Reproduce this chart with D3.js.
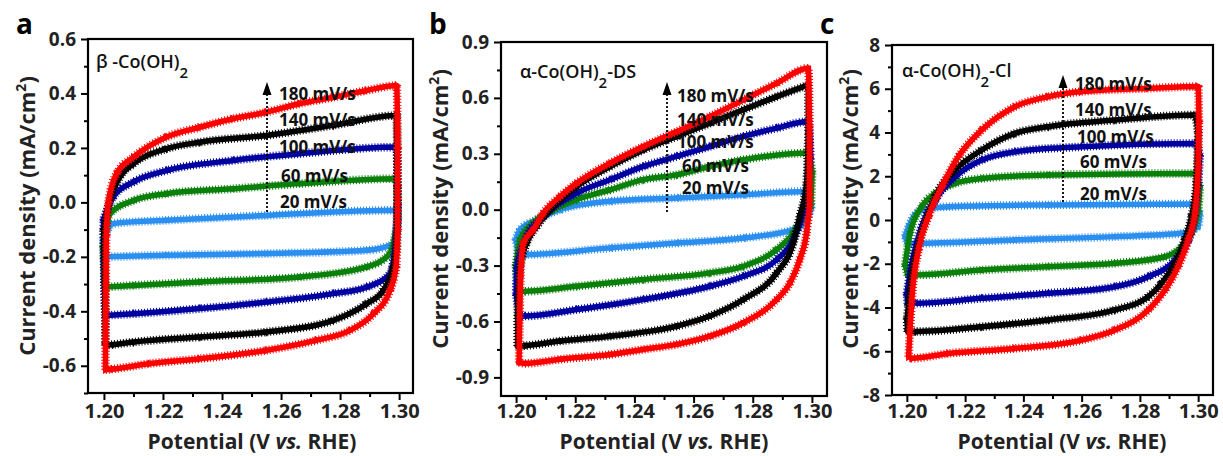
<!DOCTYPE html>
<html>
<head>
<meta charset="utf-8">
<script src="https://cdn.jsdelivr.net/npm/d3@7"></script>
<style>
  body { margin: 0; background: #fff; }
  svg text { font-family: "Open Sans", "DejaVu Sans", sans-serif; }
</style>
</head>
<body>
<div id="chart"></div>
<script>
// scan rates, top to bottom in the annotation
var rates = ["180 mV/s", "140 mV/s", "100 mV/s", "60 mV/s", "20 mV/s"];

var xTicks = [1.20, 1.22, 1.24, 1.26, 1.28, 1.30];
var xMinor = [1.21, 1.23, 1.25, 1.27, 1.29];
var yTicksA = [-0.6, -0.4, -0.2, 0.0, 0.2, 0.4, 0.6];
var yMinorA = [-0.7, -0.5, -0.3, -0.1, 0.1, 0.3, 0.5];
var yTicksB = [-0.9, -0.6, -0.3, 0.0, 0.3, 0.6, 0.9];
var yMinorB = [-0.75, -0.45, -0.15, 0.15, 0.45, 0.75];
var yTicksC = [-8, -6, -4, -2, 0, 2, 4, 6, 8];
var yMinorC = [-7, -5, -3, -1, 1, 3, 5, 7];

// panel a : beta-Co(OH)2, closed CV loops [potential, current density]
var aRed = [[1.2005,-0.615],[1.2006,-0.40],[1.2008,-0.12],[1.2015,0.0],[1.2043,0.106],[1.2100,0.166],[1.2212,0.240],[1.2325,0.276],[1.2437,0.307],[1.2550,0.331],[1.2664,0.363],[1.2777,0.386],[1.2890,0.411],[1.2992,0.429],[1.2995,0.20],[1.2995,-0.10],[1.2990,-0.237],[1.2969,-0.323],[1.2913,-0.409],[1.2834,-0.470],[1.2721,-0.506],[1.2552,-0.543],[1.2325,-0.574],[1.2156,-0.592],[1.2030,-0.612]];
var aBlack = [[1.2005,-0.525],[1.2003,-0.30],[1.1999,-0.103],[1.2020,0.007],[1.2054,0.093],[1.2100,0.142],[1.2212,0.197],[1.2325,0.221],[1.2550,0.246],[1.2777,0.283],[1.2992,0.319],[1.2994,0.05],[1.2990,-0.18],[1.2947,-0.323],[1.2890,-0.372],[1.2777,-0.433],[1.2550,-0.476],[1.2325,-0.494],[1.2100,-0.513],[1.2030,-0.522]];
var aBlue = [[1.2005,-0.415],[1.2000,-0.20],[1.1999,-0.06],[1.2031,0.02],[1.2100,0.075],[1.2212,0.117],[1.2438,0.154],[1.2664,0.179],[1.2992,0.203],[1.2995,0.0],[1.2992,-0.103],[1.2969,-0.262],[1.2890,-0.311],[1.2777,-0.335],[1.2550,-0.366],[1.2325,-0.390],[1.2100,-0.409]];
var aGreen = [[1.2005,-0.311],[1.1998,-0.164],[1.2020,-0.042],[1.2100,0.007],[1.2212,0.032],[1.2438,0.050],[1.2664,0.069],[1.2992,0.087],[1.2996,-0.066],[1.2969,-0.188],[1.2890,-0.237],[1.2664,-0.274],[1.2325,-0.292],[1.2100,-0.305]];
var aLight = [[1.2005,-0.200],[1.1998,-0.139],[1.2031,-0.078],[1.2212,-0.066],[1.2550,-0.048],[1.2992,-0.029],[1.2996,-0.080],[1.2981,-0.152],[1.2890,-0.176],[1.2550,-0.188],[1.2212,-0.194]];

// panel b : alpha-Co(OH)2-DS
var bRed = [[1.2010,-0.821],[1.2012,-0.60],[1.2015,-0.357],[1.2025,-0.179],[1.2058,-0.107],[1.2092,-0.018],[1.2149,0.071],[1.2205,0.143],[1.2318,0.250],[1.2430,0.339],[1.2543,0.419],[1.2655,0.500],[1.2768,0.589],[1.2881,0.679],[1.2988,0.759],[1.2992,0.45],[1.2992,0.018],[1.2982,-0.125],[1.2959,-0.268],[1.2926,-0.393],[1.2881,-0.482],[1.2768,-0.607],[1.2655,-0.679],[1.2543,-0.723],[1.2430,-0.750],[1.2318,-0.777],[1.2149,-0.803],[1.2030,-0.825]];
var bBlack = [[1.2005,-0.732],[1.2005,-0.57],[1.2014,-0.304],[1.2036,-0.179],[1.2070,-0.089],[1.2115,0.000],[1.2205,0.125],[1.2318,0.232],[1.2430,0.321],[1.2543,0.393],[1.2655,0.464],[1.2768,0.536],[1.2881,0.607],[1.2988,0.670],[1.2988,0.411],[1.2982,0.143],[1.2959,-0.036],[1.2937,-0.179],[1.2881,-0.339],[1.2768,-0.482],[1.2655,-0.571],[1.2543,-0.625],[1.2318,-0.679],[1.2149,-0.705],[1.2030,-0.730]];
var bBlue = [[1.2010,-0.571],[1.2000,-0.45],[1.2003,-0.304],[1.2036,-0.143],[1.2092,-0.036],[1.2205,0.089],[1.2318,0.161],[1.2430,0.232],[1.2543,0.286],[1.2655,0.339],[1.2768,0.393],[1.2881,0.438],[1.2988,0.473],[1.2995,0.286],[1.2988,0.125],[1.2970,-0.018],[1.2937,-0.161],[1.2881,-0.268],[1.2768,-0.357],[1.2655,-0.411],[1.2430,-0.482],[1.2205,-0.536],[1.2030,-0.571]];
var bGreen = [[1.2010,-0.438],[1.1999,-0.304],[1.2014,-0.161],[1.2058,-0.071],[1.2126,0.000],[1.2205,0.054],[1.2318,0.107],[1.2430,0.161],[1.2543,0.187],[1.2655,0.232],[1.2768,0.268],[1.2988,0.304],[1.3001,0.196],[1.2995,0.018],[1.2970,-0.036],[1.2937,-0.125],[1.2881,-0.214],[1.2768,-0.304],[1.2655,-0.339],[1.2430,-0.375],[1.2205,-0.411],[1.2030,-0.438]];
var bLight = [[1.2010,-0.241],[1.1999,-0.161],[1.2014,-0.107],[1.2070,-0.054],[1.2149,0.000],[1.2318,0.045],[1.2543,0.063],[1.2768,0.080],[1.2988,0.098],[1.2999,0.018],[1.2982,-0.054],[1.2937,-0.107],[1.2768,-0.152],[1.2543,-0.179],[1.2318,-0.205],[1.2030,-0.241]];

// panel c : alpha-Co(OH)2-Cl
var cRed = [[1.2006,-6.25],[1.2011,-5.0],[1.2017,-3.66],[1.2040,-1.37],[1.2074,0.15],[1.2120,1.52],[1.2177,2.90],[1.2257,4.11],[1.2371,5.18],[1.2486,5.64],[1.2600,5.87],[1.2829,6.02],[1.3000,6.10],[1.3003,4.5],[1.3000,2.44],[1.2989,0.30],[1.2966,-0.91],[1.2931,-2.13],[1.2886,-3.20],[1.2829,-4.11],[1.2714,-5.03],[1.2600,-5.49],[1.2371,-5.87],[1.2143,-6.10],[1.2017,-6.32]];
var cBlack = [[1.2003,-5.10],[1.2000,-4.57],[1.2017,-2.59],[1.2051,-0.61],[1.2097,1.07],[1.2166,2.29],[1.2257,3.20],[1.2371,3.96],[1.2486,4.27],[1.2714,4.57],[1.2989,4.80],[1.3000,3.96],[1.2994,1.68],[1.2977,0.15],[1.2954,-0.91],[1.2920,-1.98],[1.2874,-2.90],[1.2829,-3.50],[1.2714,-4.11],[1.2486,-4.57],[1.2257,-4.88],[1.2029,-5.10]];
var cBlue = [[1.2003,-3.81],[1.2000,-3.35],[1.2017,-1.98],[1.2051,-0.30],[1.2097,0.91],[1.2166,1.98],[1.2257,2.74],[1.2371,3.12],[1.2600,3.35],[1.2989,3.50],[1.3006,3.00],[1.3000,1.68],[1.2989,0.30],[1.2966,-0.91],[1.2920,-1.83],[1.2829,-2.59],[1.2714,-3.05],[1.2486,-3.35],[1.2257,-3.58],[1.2030,-3.81]];
var cGreen = [[1.2003,-2.51],[1.1994,-2.06],[1.2011,-0.61],[1.2051,0.61],[1.2097,1.22],[1.2166,1.68],[1.2257,1.90],[1.2486,2.06],[1.2989,2.13],[1.3006,1.52],[1.3000,0.46],[1.2977,-0.61],[1.2943,-1.22],[1.2886,-1.68],[1.2714,-1.98],[1.2486,-2.13],[1.2257,-2.29],[1.2029,-2.51]];
var cLight = [[1.2003,-1.07],[1.1994,-0.76],[1.2006,-0.30],[1.2051,0.46],[1.2143,0.61],[1.2486,0.69],[1.2989,0.73],[1.3006,0.30],[1.3000,-0.30],[1.2943,-0.61],[1.2714,-0.76],[1.2371,-0.91],[1.2029,-1.07]];

var colors = ["#ff0000", "#000000", "#0000a0", "#0a800a", "#2b8ff0"];

var W = 1223, H = 456;
var fmt = d3.formatLocale({decimal: ".", thousands: ",", grouping: [3], currency: ["", ""], minus: "-"}).format;

var svg = d3.select("#chart").append("svg")
    .attr("width", W)
    .attr("height", H);

// frame boxes and layout of the 3 panels
var panels = [
  {letter: "a", left: 88, right: 413, top: 39, bottom: 393, xd: [1.1946, 1.3047], yd: [-0.7, 0.6],
   yt: yTicksA, ym: yMinorA, yf: fmt(".1f"), series: [aRed, aBlack, aBlue, aGreen, aLight],
   sym: ["triR", "triD", "triU", "circle", "square"],
   name: ["β -Co(OH)", "2", ""], nameX: 96, nameY: 68,
   arrowX: 267, arrowY0: 212, arrowY1: 82,
   labX: [279, 279, 279, 281, 280], labY: [100, 126, 153, 182, 208],
   titleX: 27, titleY: 216, xtX: 252},
  {letter: "b", left: 501, right: 827, top: 42, bottom: 396, xd: [1.1949, 1.3051], yd: [-1.0, 0.9],
   yt: yTicksB, ym: yMinorB, yf: fmt(".1f"), series: [bRed, bBlack, bBlue, bGreen, bLight],
   sym: ["square", "circle", "triU", "triD", "triL"],
   name: ["α-Co(OH)", "2", "-DS"], nameX: 520, nameY: 78,
   arrowX: 667, arrowY0: 212, arrowY1: 82,
   labX: [677, 677, 677, 682, 682], labY: [102, 126, 148, 172, 194],
   titleX: 440, titleY: 209, xtX: 664},
  {letter: "c", left: 892, right: 1213, top: 45, bottom: 395, xd: [1.1949, 1.3051], yd: [-8, 8],
   yt: yTicksC, ym: yMinorC, yf: fmt("d"), series: [cRed, cBlack, cBlue, cGreen, cLight],
   sym: ["triR", "triD", "triU", "circle", "square"],
   name: ["α-Co(OH)", "2", "-Cl"], nameX: 902, nameY: 77,
   arrowX: 1063, arrowY0: 202, arrowY1: 75,
   labX: [1075, 1075, 1077, 1080, 1080], labY: [90, 116, 143, 168, 200],
   titleX: 850, titleY: 209, xtX: 1062}
];

function symPath(name) {
  var s = {triR: d3.symbolTriangle, triL: d3.symbolTriangle, triU: d3.symbolTriangle,
           triD: d3.symbolTriangle, circle: d3.symbolCircle, square: d3.symbolSquare}[name];
  return d3.symbol().type(s).size(30)();
}
var symRot = {triR: 90, triL: -90, triU: 0, triD: 180, circle: 0, square: 0};

// closed loop -> pieces where potential runs one way; each piece smoothed with
// monotoneX so the sweep reversals stay sharp like the measured CVs
var mono = d3.line().curve(d3.curveMonotoneX);
var straight = d3.line();
function loopPath(pts) {
  var p = pts.concat([pts[0]]);
  var runs = [], cur = [p[0]], dir = null;
  for (var i = 1; i < p.length; i++) {
    var d = Math.sign(p[i][0] - p[i - 1][0]);
    if (dir !== null && d !== dir) {
      runs.push({dir: dir, pts: cur});
      cur = [p[i - 1]];
    }
    dir = d;
    cur.push(p[i]);
  }
  runs.push({dir: dir, pts: cur});
  return runs.map(function(r) {
    if (r.dir === 0 || r.pts.length < 3) return straight(r.pts);
    var q = r.dir < 0 ? r.pts.slice().reverse() : r.pts;
    return mono(q);
  }).join("");
}

panels.forEach(function(p) {
  var x = d3.scaleLinear().domain(p.xd).range([p.left, p.right]);
  var y = d3.scaleLinear().domain(p.yd).range([p.bottom, p.top]);
  var g = svg.append("g");

  var clipId = "clip-" + p.letter;
  g.append("clipPath").attr("id", clipId)
    .append("rect")
      .attr("x", p.left).attr("y", p.top)
      .attr("width", p.right - p.left).attr("height", p.bottom - p.top);

  var plot = g.append("g").attr("clip-path", "url(#" + clipId + ")");
  // slow rates first so red sits on top
  for (var i = p.series.length - 1; i >= 0; i--) {
    var s = p.series[i];
    var px = s.map(function(d) { return [x(d[0]), y(d[1])]; });
    var dPath = loopPath(px);
    plot.append("path")
        .attr("d", dPath)
        .attr("fill", "none")
        .attr("stroke", colors[i])
        .attr("stroke-width", 5.5)
        .attr("stroke-linejoin", "round")
        .attr("stroke-linecap", "round");
    plot.append("path")
        .attr("d", dPath)
        .attr("fill", "none")
        .attr("stroke", colors[i])
        .attr("stroke-width", 8.5)
        .attr("stroke-dasharray", "1 2");
    plot.selectAll(null)
      .data(s)
      .enter().append("path")
        .attr("d", symPath(p.sym[i]))
        .attr("fill", colors[i])
        .attr("transform", function(d) {
          return "translate(" + x(d[0]) + "," + y(d[1]) + ") rotate(" + symRot[p.sym[i]] + ")";
        });
  }

  // frame
  g.append("rect")
      .attr("x", p.left).attr("y", p.top)
      .attr("width", p.right - p.left).attr("height", p.bottom - p.top)
      .attr("fill", "none")
      .attr("stroke", "#000")
      .attr("stroke-width", 2.2);

  // axes: major + minor ticks, outward
  var xa = g.append("g")
      .attr("transform", "translate(0," + p.bottom + ")")
      .call(d3.axisBottom(x).tickValues(xTicks).tickSize(7).tickPadding(5).tickFormat(fmt(".2f")));
  var xm = g.append("g")
      .attr("transform", "translate(0," + p.bottom + ")")
      .call(d3.axisBottom(x).tickValues(xMinor).tickSize(4).tickFormat(""));
  var ya = g.append("g")
      .attr("transform", "translate(" + p.left + ",0)")
      .call(d3.axisLeft(y).tickValues(p.yt).tickSize(7).tickPadding(5).tickFormat(p.yf));
  var ym = g.append("g")
      .attr("transform", "translate(" + p.left + ",0)")
      .call(d3.axisLeft(y).tickValues(p.ym).tickSize(4).tickFormat(""));
  [xa, xm, ya, ym].forEach(function(a) {
    a.select(".domain").remove();
    a.selectAll("line").attr("stroke-width", 2);
  });
  xa.selectAll("text").attr("font-size", 20).attr("font-weight", 700).attr("fill", "#222")
      .attr("y", 418 - p.bottom).attr("dy", null);
  ya.selectAll("text").attr("font-size", 19).attr("font-weight", 700).attr("fill", "#222");

  // axis titles
  var xt = g.append("text")
      .attr("x", p.xtX).attr("y", 449)
      .attr("text-anchor", "middle")
      .attr("font-size", 21).attr("font-weight", 700).attr("fill", "#222");
  xt.append("tspan").text("Potential (V ");
  xt.append("tspan").attr("font-style", "italic").text("vs.");
  xt.append("tspan").text(" RHE)");

  var yt = g.append("text")
      .attr("transform", "translate(" + (p.titleX + 8) + "," + p.titleY + ") rotate(-90)")
      .attr("text-anchor", "middle")
      .attr("font-size", 22).attr("font-weight", 700).attr("fill", "#222");
  yt.append("tspan").text("Current density (mA/cm");
  yt.append("tspan").attr("baseline-shift", "super").attr("font-size", 14).text("2");
  yt.append("tspan").text(")");

  // panel letter
  g.append("text")
      .attr("x", p.left - 72).attr("y", 34)
      .attr("font-size", 28).attr("font-weight", 700)
      .text(p.letter);

  // sample name
  var nm = g.append("text")
      .attr("x", p.nameX).attr("y", p.nameY)
      .attr("font-size", 18).attr("font-weight", 600).attr("fill", "#111");
  nm.append("tspan").text(p.name[0]);
  nm.append("tspan").attr("baseline-shift", "sub").attr("font-size", 15).text(p.name[1]);
  nm.append("tspan").text(p.name[2]);

  // dotted arrow for increasing scan rate
  g.append("line")
      .attr("x1", p.arrowX).attr("x2", p.arrowX)
      .attr("y1", p.arrowY0).attr("y2", p.arrowY1 + 10)
      .attr("stroke", "#000").attr("stroke-width", 1.8)
      .attr("stroke-dasharray", "2 2");
  g.append("path")
      .attr("d", d3.line()([[p.arrowX - 4.5, p.arrowY1 + 13], [p.arrowX, p.arrowY1], [p.arrowX + 4.5, p.arrowY1 + 13]]) + "Z")
      .attr("fill", "#000");

  g.selectAll(null)
    .data(rates)
    .enter().append("text")
      .attr("x", function(d, i) { return p.labX[i]; })
      .attr("y", function(d, i) { return p.labY[i]; })
      .attr("font-size", 17).attr("font-weight", 700).attr("fill", "#111")
      .text(function(d) { return d; });
});
</script>
</body>
</html>
